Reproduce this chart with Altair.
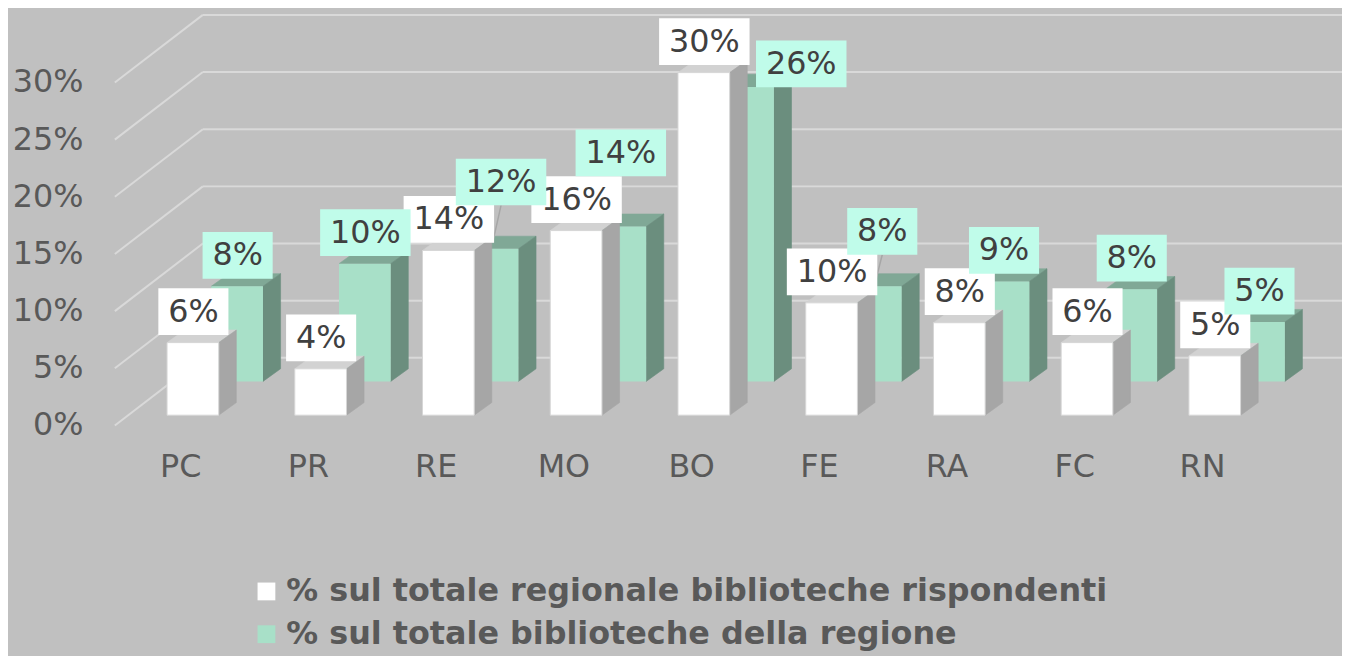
import altair as alt
import pandas as pd

# ---------------- data ----------------
categories = ["PC", "PR", "RE", "MO", "BO", "FE", "RA", "FC", "RN"]
resp_values = [6.35, 4.06, 14.41, 16.15, 29.97, 9.83, 8.09, 6.35, 5.19]
reg_values = [8.32, 10.30, 11.60, 13.54, 25.76, 8.32, 8.75, 8.07, 5.19]
series_names = ["% sul totale regionale biblioteche rispondenti",
                "% sul totale  biblioteche della regione"]
y_ticks = [0, 5, 10, 15, 20, 25, 30]
# manual nudges (px) of a few data labels of the 2nd series (moved in the original)
label_nudges = {"RE": (8, -36), "MO": (0, -43), "BO": (53, 8), "FE": (6, -24)}

# ---------------- layout / style ----------------
W, H = 1342, 648
PXC = 128.5      # px per category
PXP = 11.5       # px per percentage point
X0 = 186.0       # px centre of first front-series bar
Y0 = 407.7       # px floor of front series
HALF = 26.0      # half bar width px
DDX, DDY = 17.7, -12.7   # depth of a bar (px)
FONT = "DejaVu Sans"

SERIES = [
    dict(dx=0.0, dbase=0.0, front="#ffffff", top="#d2d2d2", side="#a6a6a6", box="#ffffff"),
    dict(dx=44.5, dbase=-34.0, front="#a8e0c8", top="#80a896", side="#6b8e7e", box="#c0fcea"),
]


def ux(px):
    return px / PXC


def uy(px):
    return -px / PXP


x_scale = alt.Scale(domain=[-X0 / PXC, (W - X0) / PXC], nice=False, zero=False)
y_scale = alt.Scale(domain=[(Y0 - H) / PXP, Y0 / PXP], nice=False, zero=False)


def X(f):
    return alt.X(f, type="quantitative", scale=x_scale, axis=None)


def Y(f):
    return alt.Y(f, type="quantitative", scale=y_scale, axis=None, stack=None)


# ---------------- build tables ----------------
fronts, faces, labels, leaders = [], [], [], []
for s, (name, vals) in enumerate(zip(series_names, [resp_values, reg_values])):
    st = SERIES[s]
    for i, (c, v) in enumerate(zip(categories, vals)):
        cx = i + ux(st["dx"])
        base = uy(st["dbase"])
        top = base + v
        l, r = cx - ux(HALF), cx + ux(HALF)
        h = v * PXP
        fronts.append(dict(s=s, series=name, cat=c, x=l, x2=r, y=top, y2=base))
        # top face anchored at the front top-left corner
        faces.append(dict(s=s, face="top", x=l, y=top,
                          path=f"M0,0L{DDX},{DDY}L{2*HALF+DDX},{DDY}L{2*HALF},0Z"))
        # side face anchored at the front top-right corner
        faces.append(dict(s=s, face="side", x=r, y=top,
                          path=f"M0,0L{DDX},{DDY}L{DDX},{h+DDY:.2f}L0,{h:.2f}Z"))
        text = f"{round(v):d}%"
        nx, ny = label_nudges.get(c, (0, 0)) if s == 1 else (0, 0)
        half_w = 35.25 if len(text) == 2 else 45.5
        bx = cx + ux(0.5 + nx)
        bottom = top + uy(-7.7 + ny)
        labels.append(dict(s=s, text=text, x=bx - ux(half_w), x2=bx + ux(half_w), xc=bx,
                           y=bottom, y2=bottom + uy(-47), yc=bottom + uy(-23.5)))
        if s == 1 and c in label_nudges and c != "BO":
            leaders.append(dict(x=bx, y=bottom, x2=cx, y2=top + uy(-6)))

fronts, faces, labels, leaders = map(pd.DataFrame, [fronts, faces, labels, leaders])

grid = []
for v in y_ticks:
    grid.append(dict(x=ux(107.5 - X0), y=v + uy(10.3), x2=ux(196 - X0), y2=v + uy(-57.7)))
    grid.append(dict(x=ux(196 - X0), y=v + uy(-57.7), x2=ux(W - X0), y2=v + uy(-57.7)))
grid = pd.DataFrame(grid)

ytab = pd.DataFrame(dict(lab=[f"{v}%" for v in y_ticks],
                         x=[ux(76 - X0)] * len(y_ticks),
                         y=[v + uy(10.3) for v in y_ticks]))
xtab = pd.DataFrame(dict(lab=categories,
                         x=[i + ux(-12.3) for i in range(len(categories))],
                         y=[uy(62.3)] * len(categories)))

color = alt.Color(
    "series:N",
    scale=alt.Scale(domain=series_names, range=[SERIES[0]["front"], SERIES[1]["front"]]),
    legend=alt.Legend(title=None, orient="none", legendX=244, legendY=569, direction="vertical",
                      symbolType="square", symbolSize=320, symbolStrokeWidth=0,
                      labelFont=FONT, labelFontSize=32, labelFontWeight="bold",
                      labelColor="#595959", labelLimit=1300, labelOffset=4, rowPadding=11,
                      padding=0),
)

# ---------------- layers ----------------
layers = [
    alt.Chart(grid).mark_rule(color="#d9d9d9", strokeWidth=2).encode(
        x=X("x"), y=Y("y"), x2="x2", y2="y2"),
]

for s in [1, 0]:
    st = SERIES[s]
    for face in ["top", "side"]:
        col = st[face]
        layers.append(
            alt.Chart(faces[(faces.s == s) & (faces.face == face)])
            .mark_point(filled=True, size=4, opacity=1, fill=col, stroke=col, strokeWidth=0.6)
            .encode(x=X("x"), y=Y("y"), shape=alt.Shape("path:N", scale=None, legend=None)))
    front_kw = dict(stroke="#d6d6d6", strokeWidth=1) if s == 0 else dict(strokeWidth=0)
    layers.append(alt.Chart(fronts[fronts.s == s]).mark_rect(**front_kw)
                  .encode(x=X("x"), x2="x2", y=Y("y"), y2="y2", color=color))

layers.append(alt.Chart(leaders).mark_rule(color="#a6a6a6", strokeWidth=1.5).encode(
    x=X("x"), y=Y("y"), x2="x2", y2="y2"))

for s in [0, 1]:
    st = SERIES[s]
    sub = labels[labels.s == s]
    layers.append(alt.Chart(sub).mark_rect(color=st["box"]).encode(
        x=X("x"), x2="x2", y=Y("y"), y2="y2"))
    layers.append(alt.Chart(sub).mark_text(font=FONT, fontSize=32, color="#404040",
                                           align="center", baseline="middle").encode(
        x=X("xc"), y=Y("yc"), text="text:N"))

layers.append(alt.Chart(ytab).mark_text(font=FONT, fontSize=32, color="#595959",
                                        align="right", baseline="middle").encode(
    x=X("x"), y=Y("y"), text="lab:N"))
layers.append(alt.Chart(xtab).mark_text(font=FONT, fontSize=32, color="#595959",
                                        align="center", baseline="alphabetic").encode(
    x=X("x"), y=Y("y"), text="lab:N"))

chart = (alt.layer(*layers)
         .properties(width=W, height=H, background="#c0c0c0", padding=0,
                     autosize=alt.AutoSizeParams(type="none"))
         .configure_view(stroke=None))

chart.save("out.html", embed_options={"renderer": "svg", "actions": False})
